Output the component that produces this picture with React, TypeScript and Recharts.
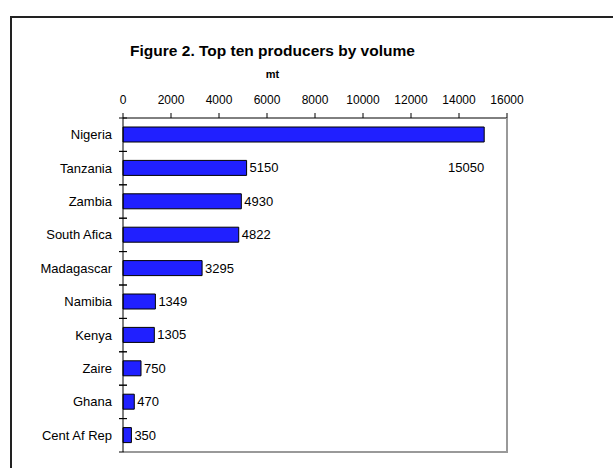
import React from "react";
import { BarChart, Bar, XAxis, YAxis, LabelList } from "recharts";

const countries = ["Nigeria", "Tanzania", "Zambia", "South Afica", "Madagascar", "Namibia", "Kenya", "Zaire", "Ghana", "Cent Af Rep"];
const volumes = [15050, 5150, 4930, 4822, 3295, 1349, 1305, 750, 470, 350];
const xTicks = [0, 2000, 4000, 6000, 8000, 10000, 12000, 14000, 16000];
const title = "Figure 2. Top ten producers by volume";
const unitLabel = "mt";

const data = countries.map((name, i) => ({ name, value: volumes[i] }));

const W = 613;
const H = 468;
const MARGIN = { top: 88, right: 106, bottom: 16, left: 23 };
const X_AXIS_H = 30;
const Y_AXIS_W = 100;
const PLOT_LEFT = MARGIN.left + Y_AXIS_W;
const PLOT_TOP = MARGIN.top + X_AXIS_H;
const PLOT_RIGHT = W - MARGIN.right;
const PLOT_BOTTOM = H - MARGIN.bottom;
const HALF_BAND = (PLOT_BOTTOM - PLOT_TOP) / countries.length / 2;
const FONT = "'Liberation Sans', Arial, sans-serif";

const CategoryTick = (props: any) => {
  const { x, y, payload, index } = props;
  const last = index === countries.length - 1;
  return (
    <g>
      <text x={x - 11} y={y} dy="0.35em" textAnchor="end" fontSize={13} fill="#000" fontFamily={FONT}>
        {payload.value}
      </text>
      <line x1={x - 4} x2={x + 4} y1={y - HALF_BAND} y2={y - HALF_BAND} stroke="#000" />
      <line x1={x - 4} x2={x + 4} y1={y + HALF_BAND} y2={y + HALF_BAND} stroke="#000" />
      {last && (
        <path
          d={`M${x + 1},${y + HALF_BAND} H${PLOT_RIGHT} V${PLOT_TOP}`}
          fill="none"
          stroke="#999999"
          strokeWidth={2}
        />
      )}
    </g>
  );
};

const ValueLabel = (props: any) => {
  const { x, y, width, height, value } = props;
  const end = x + width;
  if (end + 40 > PLOT_RIGHT) {
    return (
      <text x={end} y={y + height / 2 + HALF_BAND * 2} dy="0.35em" textAnchor="end" fontSize={13} fill="#000" fontFamily={FONT}>
        {value}
      </text>
    );
  }
  return (
    <text x={end + 3} y={y + height / 2} dy="0.35em" textAnchor="start" fontSize={13} fill="#000" fontFamily={FONT}>
      {value}
    </text>
  );
};

export default function App() {
  return (
    <div style={{ position: "absolute", left: 0, top: 0, width: W, height: H, overflow: "hidden", background: "#fff" }}>
      <div style={{ position: "absolute", left: 10, top: 16, width: 800, height: 800, borderLeft: "2px solid #222", borderTop: "2px solid #222" }} />
      <div style={{ position: "absolute", left: 0, width: 545, top: 41, textAlign: "center", fontFamily: FONT, fontWeight: "bold", fontSize: 15.5, lineHeight: "20px" }}>
        {title}
      </div>
      <div style={{ position: "absolute", left: 0, width: 545, top: 67, textAlign: "center", fontFamily: FONT, fontWeight: "bold", fontSize: 11, lineHeight: "14px" }}>
        {unitLabel}
      </div>
      <div style={{ position: "absolute", left: 0, top: 0 }}>
        <BarChart width={W} height={H} data={data} layout="vertical" margin={MARGIN}>
          <XAxis
            type="number"
            orientation="top"
            domain={[0, 16000]}
            ticks={xTicks}
            height={X_AXIS_H}
            tickSize={5}
            tickMargin={9}
            stroke="#000"
            tick={{ fill: "#000", fontSize: 12, fontFamily: FONT }}
            interval={0}
          />
          <YAxis
            type="category"
            dataKey="name"
            width={Y_AXIS_W}
            tickLine={false}
            tickSize={0}
            tickMargin={0}
            stroke="#000"
            tick={<CategoryTick />}
            interval={0}
          />
          <Bar dataKey="value" fill="#2020FF" stroke="#000" strokeWidth={1} barSize={15} isAnimationActive={false}>
            <LabelList dataKey="value" content={<ValueLabel />} />
          </Bar>
        </BarChart>
      </div>
    </div>
  );
}
